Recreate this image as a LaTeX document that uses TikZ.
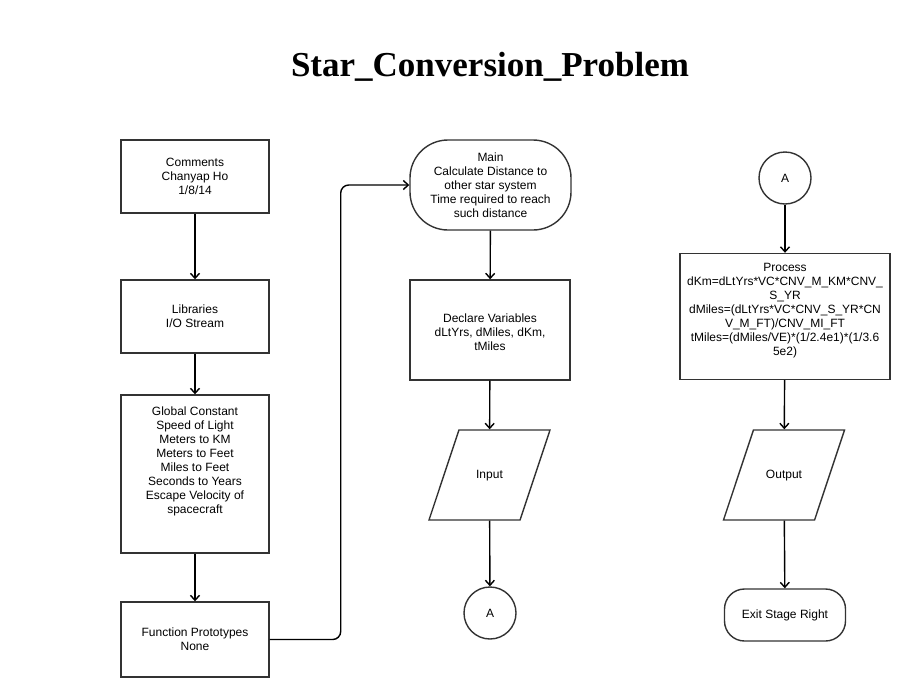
\documentclass[tikz,border=0pt]{standalone}
\usepackage{fontspec}
\setmainfont{Liberation Sans}
\newfontfamily\titlefont{Liberation Serif}
\usetikzlibrary{arrows.meta,positioning,shapes.geometric}

\begin{document}
\begin{tikzpicture}[x=1pt,y=-1pt,
    box/.style={draw=black!80,line width=1.4pt,align=center,
      font=\fontsize{12}{14}\selectfont,inner sep=2pt},
    term/.style={box,rounded corners=#1},
    io/.style={box,trapezium,trapezium left angle=71.6,trapezium right angle=108.4,
      trapezium stretches body=true,text height=9pt,text depth=3pt,inner ysep=39pt,
      minimum width=121pt},
    conn/.style={box,circle,minimum size=52pt},
    line width=1.4pt,->,>={Straight Barb[length=5pt,width=9pt]}]
    \fill[white] (0,0) rectangle (910,697);
    \useasboundingbox (0,0) rectangle (910,697);
    \node[font=\titlefont\bfseries\fontsize{35}{40}\selectfont] (title) at (490,67) {Star\_Conversion\_Problem};
    % left column
    \node[box,minimum width=148pt,minimum height=73pt] (comments) at (195,176.5) {Comments\\Chanyap Ho\\1/8/14};
    \node[box,minimum width=148pt,minimum height=73pt] (libs) at (195,316.5) {Libraries\\I/O Stream};
    \node[box,minimum width=148pt,minimum height=158pt] (const) at (195,474) {Global Constant\\Speed of Light\\Meters to KM\\Meters to Feet\\Miles to Feet\\Seconds to Years\\Escape Velocity of\\spacecraft\\~\\~};
    \node[box,minimum width=148pt,minimum height=75pt] (proto) at (195,639.5) {Function Prototypes\\None};
    % middle column
    \node[term=38pt,minimum width=161pt,minimum height=90pt] (main) at (490.5,185) {Main\\Calculate Distance to\\other star system\\Time required to reach\\such distance};
    \node[box,minimum width=160pt,minimum height=100pt] (vars) at (490,330) {~\\Declare Variables\\dLtYrs, dMiles, dKm,\\tMiles};
    \node[io] (input) at (489.5,475) {Input};
    \node[conn] (a1) at (490,613) {A};
    % right column
    \node[conn] (a2) at (785,178) {A};
    \node[box,minimum width=210pt,minimum height=126pt] (calc) at (785,316.5) {Process\\dKm=dLtYrs*VC*CNV\_M\_KM*CNV\_\\S\_YR\\dMiles=(dLtYrs*VC*CNV\_S\_YR*CN\\V\_M\_FT)/CNV\_MI\_FT\\tMiles=(dMiles/VE)*(1/2.4e1)*(1/3.6\\5e2)\\~};
    \node[io] (output) at (784,475) {Output};
    \node[term=20pt,minimum width=121pt,minimum height=52pt] (exit) at (785,615) {Exit Stage Right};
    % flow
    \draw (comments) -- (libs);
    \draw (libs) -- (const);
    \draw (const) -- (proto);
    \draw[rounded corners=8pt] (proto.east) -- ++(71,0) |- (main.west);
    \draw (main) -- (vars);
    \draw (vars) -- (input);
    \draw (input) -- (a1);
    \draw (a2) -- (calc);
    \draw (calc) -- (output);
    \draw (output) -- (exit);
\end{tikzpicture}
\end{document}
